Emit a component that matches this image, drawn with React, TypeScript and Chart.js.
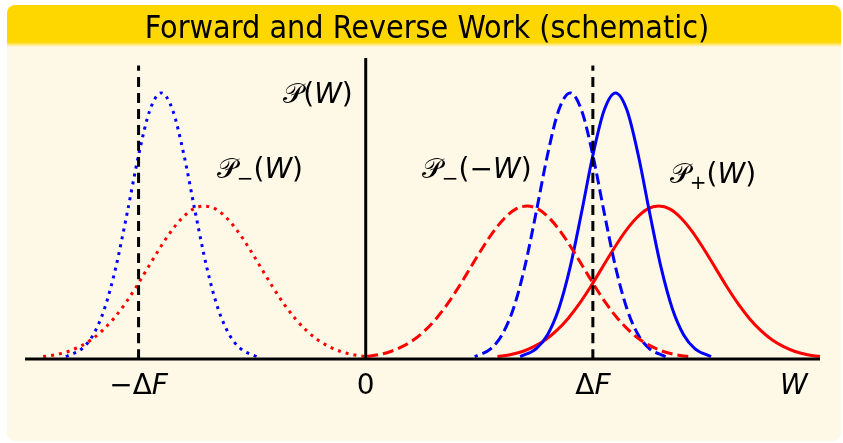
import React, { useEffect, useRef } from "react";
import { Chart, registerables } from "chart.js";

Chart.register(...registerables);

// Work values are in units of ΔF; densities in arbitrary units (axis top = 1).
const narrowForwardW = [0.68, 0.75, 0.8, 0.85, 0.9, 0.95, 1.0, 1.05, 1.1, 1.15, 1.2, 1.25, 1.3, 1.35, 1.4, 1.45, 1.52];
const narrowReverseW = [-1.32, -1.25, -1.2, -1.15, -1.1, -1.05, -1.0, -0.95, -0.9, -0.85, -0.8, -0.75, -0.7, -0.65, -0.6, -0.55, -0.48];
const narrowP = [0.008, 0.034, 0.08, 0.167, 0.305, 0.486, 0.677, 0.827, 0.884, 0.827, 0.677, 0.486, 0.305, 0.167, 0.08, 0.034, 0.008];

const wideForwardW = [0.58, 0.64, 0.69, 0.74, 0.79, 0.84, 0.89, 0.94, 0.99, 1.04, 1.09, 1.14, 1.19, 1.24, 1.29, 1.34, 1.39, 1.44, 1.49, 1.54, 1.59, 1.64, 1.69, 1.74, 1.79, 1.84, 1.89, 1.94, 2.0];
const wideReverseW = [-1.42, -1.36, -1.31, -1.26, -1.21, -1.16, -1.11, -1.06, -1.01, -0.96, -0.91, -0.86, -0.81, -0.76, -0.71, -0.66, -0.61, -0.56, -0.51, -0.46, -0.41, -0.36, -0.31, -0.26, -0.21, -0.16, -0.11, -0.06, 0.0];
const wideP = [0.008, 0.015, 0.025, 0.041, 0.063, 0.094, 0.134, 0.183, 0.24, 0.302, 0.364, 0.421, 0.467, 0.498, 0.508, 0.498, 0.467, 0.421, 0.364, 0.302, 0.24, 0.183, 0.134, 0.094, 0.063, 0.041, 0.025, 0.015, 0.008];

const deltaF = 1;
const wRange = [-1.5, 2.0];
const pTop = 1;
const markerTop = 0.975;

const titleText = "Forward and Reverse Work (schematic)";

type Seg = { t: string; k: "cal" | "it" | "rm" | "sub" };

const tickW = [-deltaF, 0, deltaF, 1.885];
const tickLabels: Seg[][] = [
  [{ t: "−Δ", k: "rm" }, { t: "F", k: "it" }],
  [{ t: "0", k: "rm" }],
  [{ t: "Δ", k: "rm" }, { t: "F", k: "it" }],
  [{ t: "W", k: "it" }],
];

const curveLabels: { w: number; p: number; align: "left" | "right"; segs: Seg[] }[] = [
  { w: -0.057, p: 0.85, align: "right", segs: [{ t: "𝒫", k: "cal" }, { t: "(", k: "rm" }, { t: "W", k: "it" }, { t: ")", k: "rm" }] },
  { w: -0.656, p: 0.6, align: "left", segs: [{ t: "𝒫", k: "cal" }, { t: "−", k: "sub" }, { t: "(", k: "rm" }, { t: "W", k: "it" }, { t: ")", k: "rm" }] },
  { w: 0.247, p: 0.6, align: "left", segs: [{ t: "𝒫", k: "cal" }, { t: "−", k: "sub" }, { t: "(−", k: "rm" }, { t: "W", k: "it" }, { t: ")", k: "rm" }] },
  { w: 1.339, p: 0.585, align: "left", segs: [{ t: "𝒫", k: "cal" }, { t: "+", k: "sub" }, { t: "(", k: "rm" }, { t: "W", k: "it" }, { t: ")", k: "rm" }] },
];

const BLUE = "#0000ff";
const RED = "#ff0000";
const GOLD = "#ffd700";
const CREAM = "#fef9e7";
const FONT_SIZE = 28;

function fontFor(k: Seg["k"], size: number) {
  if (k === "it") return `italic ${size}px "DejaVu Sans"`;
  if (k === "sub") return `${Math.round(size * 0.7)}px "DejaVu Sans"`;
  return `${size}px "DejaVu Sans"`;
}

function drawRich(ctx: CanvasRenderingContext2D, segs: Seg[], x: number, y: number, align: "left" | "right" | "center", size: number) {
  ctx.save();
  ctx.textBaseline = "alphabetic";
  ctx.textAlign = "left";
  ctx.fillStyle = "#000";
  let total = 0;
  const widths = segs.map((s) => {
    ctx.font = fontFor(s.k, size);
    const w = ctx.measureText(s.t).width;
    total += w;
    return w;
  });
  let cx = align === "left" ? x : align === "right" ? x - total : x - total / 2;
  segs.forEach((s, i) => {
    ctx.font = fontFor(s.k, size);
    const dy = s.k === "sub" ? size * 0.22 : 0;
    ctx.fillText(s.t, cx, y + dy);
    cx += widths[i];
  });
  ctx.restore();
}

function pts(ws: number[], ps: number[], mirror = false) {
  return ws.map((w, i) => ({ x: mirror ? -w : w, y: ps[i] }));
}

function roundRect(ctx: CanvasRenderingContext2D, x: number, y: number, w: number, h: number, r: number) {
  ctx.beginPath();
  ctx.moveTo(x + r, y);
  ctx.lineTo(x + w - r, y);
  ctx.arcTo(x + w, y, x + w, y + r, r);
  ctx.lineTo(x + w, y + h - r);
  ctx.arcTo(x + w, y + h, x + w - r, y + h, r);
  ctx.lineTo(x + r, y + h);
  ctx.arcTo(x, y + h, x, y + h - r, r);
  ctx.lineTo(x, y + r);
  ctx.arcTo(x, y, x + r, y, r);
  ctx.closePath();
}

const framePlugin = {
  id: "frame",
  beforeDraw(chart: Chart) {
    const ctx = chart.ctx;
    ctx.save();
    ctx.fillStyle = "#ffffff";
    ctx.fillRect(0, 0, chart.width, chart.height);
    roundRect(ctx, 7, 5, 834, 436, 8);
    ctx.fillStyle = CREAM;
    ctx.fill();
    ctx.save();
    roundRect(ctx, 7, 5, 834, 436, 8);
    ctx.clip();
    const g = ctx.createLinearGradient(0, 42, 0, 47);
    g.addColorStop(0, GOLD);
    g.addColorStop(1, CREAM);
    ctx.fillStyle = GOLD;
    ctx.fillRect(7, 5, 834, 38);
    ctx.fillStyle = g;
    ctx.fillRect(7, 42, 834, 5);
    ctx.restore();
    ctx.fillStyle = "#000";
    ctx.font = `32px "DejaVu Sans Condensed", "DejaVu Sans"`;
    ctx.textAlign = "center";
    ctx.textBaseline = "alphabetic";
    ctx.fillText(titleText, 427, 38);
    ctx.restore();
  },
  afterDraw(chart: Chart) {
    const ctx = chart.ctx;
    const xs = chart.scales.x;
    const ys = chart.scales.y;
    const base = ys.getPixelForValue(0);
    tickW.forEach((w, i) => drawRich(ctx, tickLabels[i], xs.getPixelForValue(w), base + 35, "center", FONT_SIZE));
    curveLabels.forEach((l) => drawRich(ctx, l.segs, xs.getPixelForValue(l.w), ys.getPixelForValue(l.p), l.align, FONT_SIZE));
  },
};

function line(data: { x: number; y: number }[], color: string, dash: number[], width = 3) {
  return {
    data,
    borderColor: color,
    borderWidth: width,
    borderDash: dash,
    borderCapStyle: "butt" as const,
    pointRadius: 0,
    cubicInterpolationMode: "monotone" as const,
    fill: false,
    clip: false as const,
  };
}

export default function App() {
  const ref = useRef<HTMLCanvasElement>(null);
  useEffect(() => {
    const chart = new Chart(ref.current!, {
      type: "line",
      data: {
        datasets: [
          line([{ x: wRange[0], y: 0 }, { x: wRange[1], y: 0 }], "#000", []),
          line([{ x: 0, y: 0 }, { x: 0, y: pTop }], "#000", []),
          line([{ x: -deltaF, y: 0 }, { x: -deltaF, y: markerTop }], "#000", [10, 6]),
          line([{ x: deltaF, y: 0 }, { x: deltaF, y: markerTop }], "#000", [10, 6]),
          line(pts(wideReverseW, wideP), RED, [3, 5]),
          line(pts(narrowReverseW, narrowP), BLUE, [3, 5]),
          line(pts(wideReverseW, wideP, true), RED, [11, 5]),
          line(pts(narrowReverseW, narrowP, true), BLUE, [11, 5]),
          line(pts(narrowForwardW, narrowP), BLUE, []),
          line(pts(wideForwardW, wideP), RED, []),
        ],
      },
      options: {
        responsive: false,
        animation: false,
        devicePixelRatio: 1,
        layout: { padding: { left: 25, right: 23, top: 58, bottom: 84 } },
        plugins: { legend: { display: false }, tooltip: { enabled: false }, title: { display: false } },
        scales: {
          x: { type: "linear", min: wRange[0], max: wRange[1], display: false },
          y: { type: "linear", min: 0, max: pTop, display: false },
        },
      },
      plugins: [framePlugin],
    });
    return () => chart.destroy();
  }, []);
  return (
    <div style={{ position: "fixed", left: 0, top: 0, width: 843, height: 443, background: "#fff" }}>
      <canvas ref={ref} width={843} height={443} style={{ display: "block", width: 843, height: 443 }} />
    </div>
  );
}
